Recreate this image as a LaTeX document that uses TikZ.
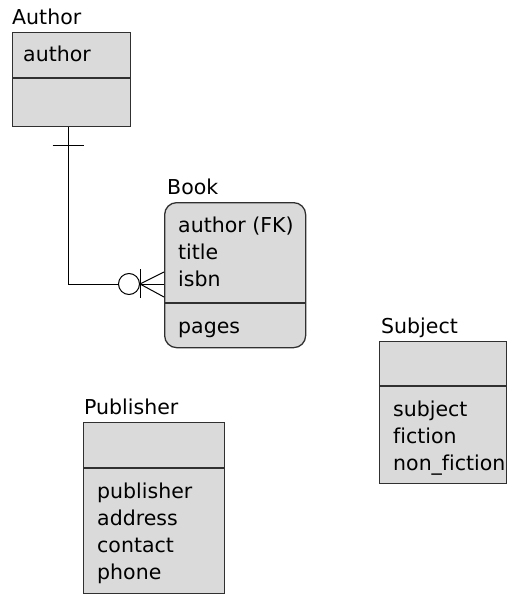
\documentclass[tikz,border=0pt]{standalone}
\usepackage{fontspec}
\setmainfont[Ligatures=NoCommon]{DejaVu Sans}
\usetikzlibrary{calc}
\definecolor{boxgray}{HTML}{DADADA}
\definecolor{edgegray}{HTML}{303030}

\begin{document}
\begin{tikzpicture}[x=1pt,y=-1pt,
  font=\fontsize{20.5}{27}\selectfont,
  entity/.style={draw=edgegray,line width=1.3pt,fill=boxgray,anchor=north west,inner sep=0pt},
  caption/.style={anchor=base west,inner sep=0pt},
  field/.style={anchor=base west,inner sep=0pt},
  rel/.style={line width=1pt,black}]
  \useasboundingbox (0,0) rectangle (513,596);
  % Author
  \node[entity,minimum width=118,minimum height=94] (author) at (12,32) {};
  \draw[draw=edgegray,line width=1.3pt] (author.west |- 0,78) -- (author.east |- 0,78);
  \node[caption] (authorname) at (12,25) {Author};
  \node[field] (authorkey) at (23,62) {author};
  % Book
  \node[entity,rounded corners=12pt,minimum width=141,minimum height=145] (book) at (164,202) {};
  \draw[draw=edgegray,line width=1.3pt] (book.west |- 0,303) -- (book.east |- 0,303);
  \node[caption] (bookname) at (167,194) {Book};
  \node[field] (bookfk) at (178,232) {author (FK)};
  \node[field] (booktitle) at (178,259) {title};
  \node[field] (bookisbn) at (178,286) {isbn};
  \node[field] (bookpages) at (178,333) {pages};
  % Subject
  \node[entity,minimum width=127,minimum height=142] (subject) at (379,341) {};
  \draw[draw=edgegray,line width=1.3pt] (subject.west |- 0,386) -- (subject.east |- 0,386);
  \node[caption] (subjectname) at (381,333) {Subject};
  \node[field] (subjectkey) at (393,416) {subject};
  \node[field] (subjectfic) at (393,443) {fiction};
  \node[field] (subjectnon) at (393,470) {non\_fiction};
  % Publisher
  \node[entity,minimum width=141,minimum height=171] (publisher) at (83,422) {};
  \draw[draw=edgegray,line width=1.3pt] (publisher.west |- 0,468) -- (publisher.east |- 0,468);
  \node[caption] (publishername) at (84,414) {Publisher};
  \node[field] (publisherkey) at (97,498) {publisher};
  \node[field] (publisheraddr) at (97,525) {address};
  \node[field] (publishercont) at (97,552) {contact};
  \node[field] (publisherphone) at (97,579) {phone};
  % Author 1 -- 0..n Book
  \coordinate (fkend) at (book.west |- 0,284);
  \draw[rel] (author.south) ++(-3,0) |- (fkend);
  \draw[rel] ($(author.south)+(-19,18)$) -- ++(31,0);
  \draw[rel] ($(fkend)+(-24,0)$) -- ($(fkend)+(0,-12)$);
  \draw[rel] ($(fkend)+(-24,0)$) -- ($(fkend)+(0,13)$);
  \draw[rel] ($(fkend)+(-24,-15)$) -- ++(0,29);
  \draw[rel,fill=white] ($(fkend)+(-35,0)$) circle (10.5);
\end{tikzpicture}
\end{document}
